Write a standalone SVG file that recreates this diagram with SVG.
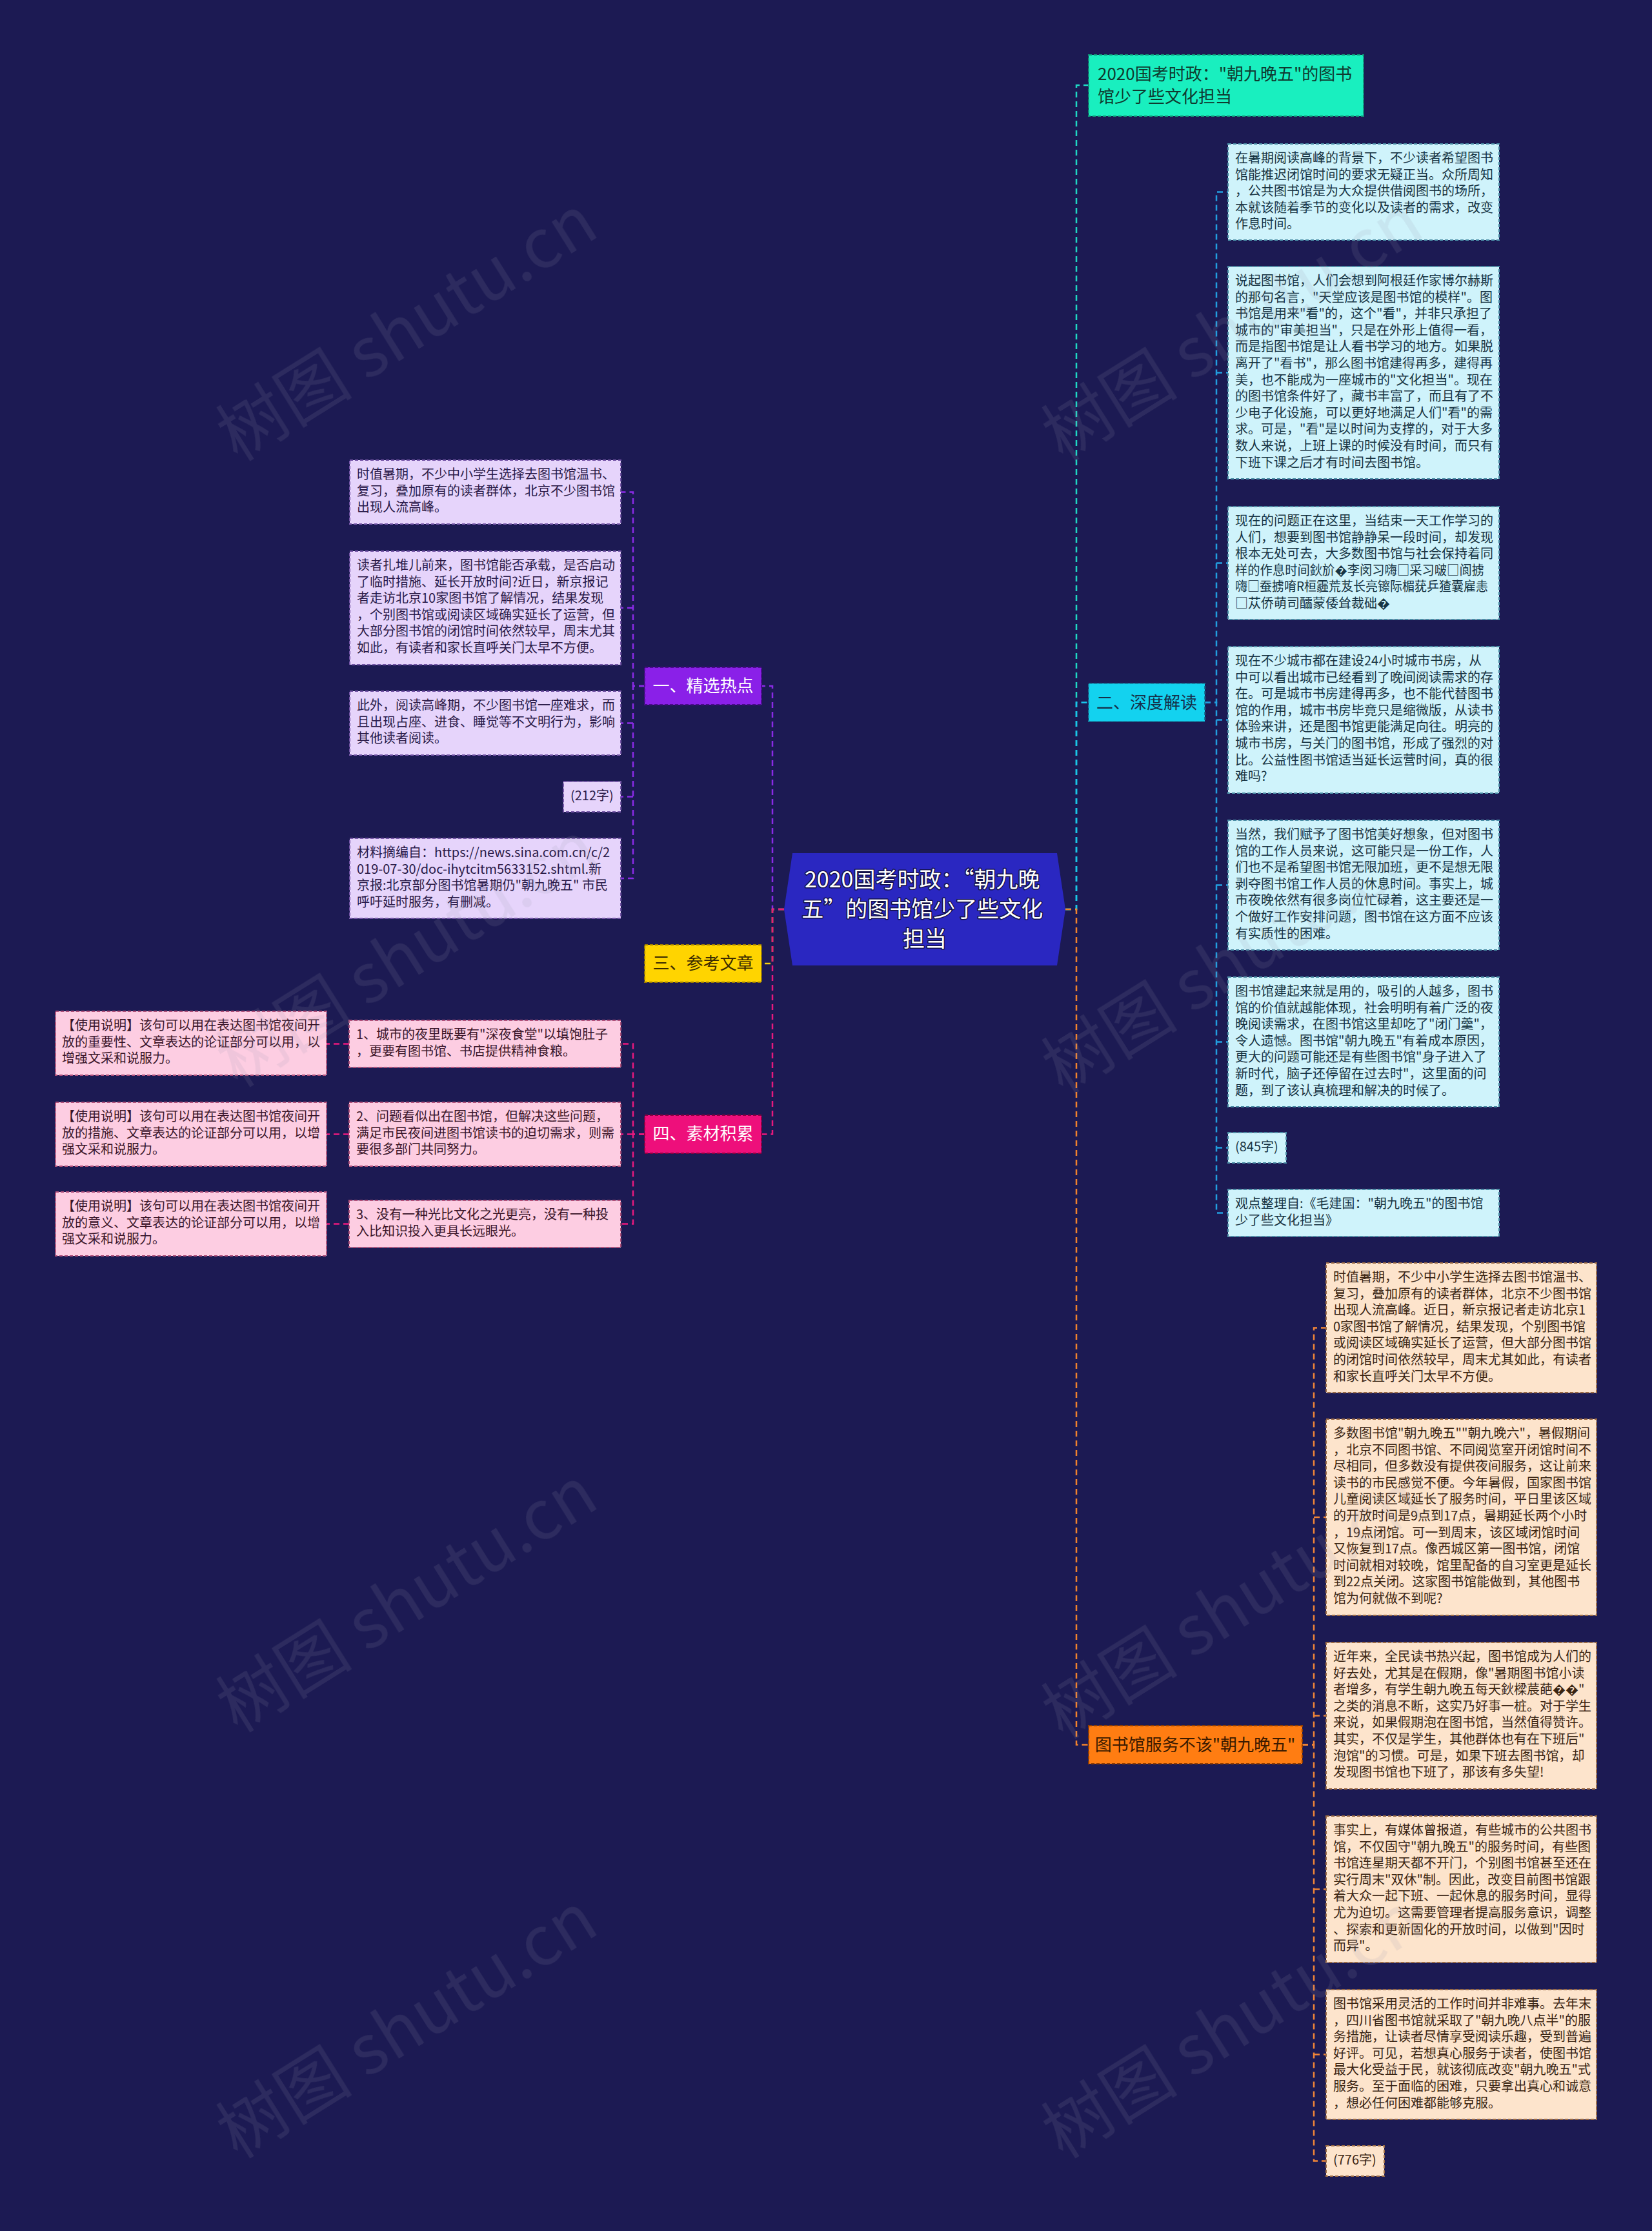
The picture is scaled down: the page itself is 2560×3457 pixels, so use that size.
<svg xmlns="http://www.w3.org/2000/svg" width="2560" height="3457" viewBox="0 0 2560 3457">
<style>
text{font-family:"Noto Sans CJK SC","Noto Sans",sans-serif}
.lf{font-size:20px}
.box{stroke-width:2;stroke-dasharray:5 3}
.cy .box{fill:#cff3fb;stroke:#4a8ea6}
.cy text{fill:#173443}
.pe .box{fill:#fde4cc;stroke:#9a6a44}
.pe text{fill:#3a2412}
.lv .box{fill:#e6d4fb;stroke:#7657a8}
.lv text{fill:#2a1a48}
.pk .box{fill:#fdcde2;stroke:#b0507a}
.pk text{fill:#3a1529}
.br{font-size:26px}
.con path{fill:none;stroke-width:2.5;stroke-dasharray:9 6}
.wm{font-family:"Liberation Serif","Noto Sans CJK SC",serif;font-size:106px;fill:#9a9ab0;opacity:0.14}
</style>
<rect width="2560" height="3457" fill="#1c1a53"/>

<g id="connectors" class="con">
  <path d="M1651 1409 H1668 V132 H1687" stroke="#1fd9c4"/>
  <path d="M1651 1409 H1668 V1088.5 H1687" stroke="#19c6ec"/>
  <path d="M1651 1409 H1668 V2703.5 H1687" stroke="#f3832c"/>
  <path d="M1215 1409 H1197 V1063 H1180" stroke="#8a2be6"/>
  <path d="M1215 1409 H1197 V1493 H1180" stroke="#f7cf13"/>
  <path d="M1215 1409 H1197 V1757.5 H1180" stroke="#e8197e"/>
  <g stroke="#229fe0">
    <path d="M1867 1088.5 H1885 V297.5 H1903"/>
    <path d="M1885 577.5 H1903"/>
    <path d="M1885 872.5 H1903"/>
    <path d="M1885 1115.5 H1903"/>
    <path d="M1885 1371.5 H1903"/>
    <path d="M1885 1614.5 H1903"/>
    <path d="M1885 1778.5 H1903"/>
    <path d="M1867 1088.5 H1885 V1879.5 H1903"/>
  </g>
  <g stroke="#f08538">
    <path d="M2018 2703.5 H2036 V2057.5 H2055"/>
    <path d="M2036 2351 H2055"/>
    <path d="M2036 2658.5 H2055"/>
    <path d="M2036 2927.5 H2055"/>
    <path d="M2036 3183.5 H2055"/>
    <path d="M2018 2703.5 H2036 V3348.5 H2055"/>
  </g>
  <g stroke="#8a2be6">
    <path d="M999 1063 H981 V762.5 H962"/>
    <path d="M981 942 H962"/>
    <path d="M981 1120.5 H962"/>
    <path d="M981 1234.5 H962"/>
    <path d="M999 1063 H981 V1361 H962"/>
  </g>
  <g stroke="#e8197e">
    <path d="M999 1757.5 H981 V1617.5 H962"/>
    <path d="M981 1757.5 H962"/>
    <path d="M999 1757.5 H981 V1896.5 H962"/>
    <path d="M541 1617.5 H506"/>
    <path d="M541 1757.5 H506"/>
    <path d="M541 1896.5 H506"/>
  </g>
</g>

<g id="center">
  <polygon points="1228,1322 1638,1322 1651,1409 1638,1496 1228,1496 1215,1409" fill="#2a27c1"/>
  <text font-size="34" fill="#ffffff" text-anchor="middle" stroke="#14124a" stroke-width="3" paint-order="stroke" stroke-linejoin="round">
    <tspan x="1433" y="1375">2020国考时政：“朝九晚</tspan>
    <tspan x="1433" y="1421">五”的图书馆少了些文化</tspan>
    <tspan x="1433" y="1467">担当</tspan>
  </text>
</g>

<g id="title-node">
  <rect class="box" x="1687" y="85" width="426" height="95" fill="#19efbf" stroke="#0f8f73"/>
  <text class="br" fill="#0f3a2f">
    <tspan x="1701" y="124">2020国考时政："朝九晚五"的图书</tspan>
    <tspan x="1701" y="159">馆少了些文化担当</tspan>
  </text>
</g>
<g id="branch-2">
  <rect class="box" x="1687" y="1059" width="180" height="59" fill="#13d2ef" stroke="#15799a"/>
  <text class="br" x="1777" y="1098" text-anchor="middle" fill="#15304a">二、深度解读</text>
</g>
<g id="branch-orange">
  <rect class="box" x="1687" y="2674" width="331" height="59" fill="#ff7d12" stroke="#8f3c00"/>
  <text class="br" x="1852" y="2713" text-anchor="middle" fill="#3a1a00">图书馆服务不该"朝九晚五"</text>
</g>
<g id="branch-1">
  <rect class="box" x="999" y="1034" width="181" height="58" fill="#8a20e8" stroke="#4a0a8a"/>
  <text class="br" x="1089.5" y="1072" text-anchor="middle" fill="#ffffff">一、精选热点</text>
</g>
<g id="branch-3">
  <rect class="box" x="999" y="1464" width="181" height="58" fill="#ffd400" stroke="#9a7a00"/>
  <text class="br" x="1089.5" y="1502" text-anchor="middle" fill="#3a2a00">三、参考文章</text>
</g>
<g id="branch-4">
  <rect class="box" x="999" y="1728" width="181" height="59" fill="#ee0f7b" stroke="#8a0040"/>
  <text class="br" x="1089.5" y="1766" text-anchor="middle" fill="#ffffff">四、素材积累</text>
</g>

<g class="cy">
<g id="r1"><rect class="box" x="1903" y="223" width="420" height="149"/>
<text class="lf"><tspan x="1914" y="252">在暑期阅读高峰的背景下，不少读者希望图书</tspan><tspan x="1914" dy="25.6">馆能推迟闭馆时间的要求无疑正当。众所周知</tspan><tspan x="1914" dy="25.6">，公共图书馆是为大众提供借阅图书的场所，</tspan><tspan x="1914" dy="25.6">本就该随着季节的变化以及读者的需求，改变</tspan><tspan x="1914" dy="25.6">作息时间。</tspan></text></g>
<g id="r2"><rect class="box" x="1903" y="413" width="420" height="329"/>
<text class="lf"><tspan x="1914" y="442">说起图书馆，人们会想到阿根廷作家博尔赫斯</tspan><tspan x="1914" dy="25.6">的那句名言，"天堂应该是图书馆的模样"。图</tspan><tspan x="1914" dy="25.6">书馆是用来"看"的，这个"看"，并非只承担了</tspan><tspan x="1914" dy="25.6">城市的"审美担当"，只是在外形上值得一看，</tspan><tspan x="1914" dy="25.6">而是指图书馆是让人看书学习的地方。如果脱</tspan><tspan x="1914" dy="25.6">离开了"看书"，那么图书馆建得再多，建得再</tspan><tspan x="1914" dy="25.6">美，也不能成为一座城市的"文化担当"。现在</tspan><tspan x="1914" dy="25.6">的图书馆条件好了，藏书丰富了，而且有了不</tspan><tspan x="1914" dy="25.6">少电子化设施，可以更好地满足人们"看"的需</tspan><tspan x="1914" dy="25.6">求。可是，"看"是以时间为支撑的，对于大多</tspan><tspan x="1914" dy="25.6">数人来说，上班上课的时候没有时间，而只有</tspan><tspan x="1914" dy="25.6">下班下课之后才有时间去图书馆。</tspan></text></g>
<g id="r3"><rect class="box" x="1903" y="785" width="420" height="175"/>
<text class="lf"><tspan x="1914" y="814">现在的问题正在这里，当结束一天工作学习的</tspan><tspan x="1914" dy="25.6">人们，想要到图书馆静静呆一段时间，却发现</tspan><tspan x="1914" dy="25.6">根本无处可去，大多数图书馆与社会保持着同</tspan><tspan x="1914" dy="25.6" textLength="386" lengthAdjust="spacingAndGlyphs">样的作息时间鈥斺�李闵习嗨□采习啵□阆掳</tspan><tspan x="1914" dy="25.6" textLength="392" lengthAdjust="spacingAndGlyphs">嗨□蚕掳唷R桓霾荒芨长亮镲际楣莸乒猹囊雇恚</tspan><tspan x="1914" dy="25.6">□苁侨萌司醽蒙倭耸裁础�</tspan></text></g>
<g id="r4"><rect class="box" x="1903" y="1002" width="420" height="227"/>
<text class="lf"><tspan x="1914" y="1031">现在不少城市都在建设24小时城市书房，从</tspan><tspan x="1914" dy="25.6">中可以看出城市已经看到了晚间阅读需求的存</tspan><tspan x="1914" dy="25.6">在。可是城市书房建得再多，也不能代替图书</tspan><tspan x="1914" dy="25.6">馆的作用，城市书房毕竟只是缩微版，从读书</tspan><tspan x="1914" dy="25.6">体验来讲，还是图书馆更能满足向往。明亮的</tspan><tspan x="1914" dy="25.6">城市书房，与关门的图书馆，形成了强烈的对</tspan><tspan x="1914" dy="25.6">比。公益性图书馆适当延长运营时间，真的很</tspan><tspan x="1914" dy="25.6">难吗?</tspan></text></g>
<g id="r5"><rect class="box" x="1903" y="1271" width="420" height="201"/>
<text class="lf"><tspan x="1914" y="1300">当然，我们赋予了图书馆美好想象，但对图书</tspan><tspan x="1914" dy="25.6">馆的工作人员来说，这可能只是一份工作，人</tspan><tspan x="1914" dy="25.6">们也不是希望图书馆无限加班，更不是想无限</tspan><tspan x="1914" dy="25.6">剥夺图书馆工作人员的休息时间。事实上，城</tspan><tspan x="1914" dy="25.6">市夜晚依然有很多岗位忙碌着，这主要还是一</tspan><tspan x="1914" dy="25.6">个做好工作安排问题，图书馆在这方面不应该</tspan><tspan x="1914" dy="25.6">有实质性的困难。</tspan></text></g>
<g id="r6"><rect class="box" x="1903" y="1514" width="420" height="201"/>
<text class="lf"><tspan x="1914" y="1543">图书馆建起来就是用的，吸引的人越多，图书</tspan><tspan x="1914" dy="25.6">馆的价值就越能体现，社会明明有着广泛的夜</tspan><tspan x="1914" dy="25.6">晚阅读需求，在图书馆这里却吃了"闭门羹"，</tspan><tspan x="1914" dy="25.6">令人遗憾。图书馆"朝九晚五"有着成本原因，</tspan><tspan x="1914" dy="25.6">更大的问题可能还是有些图书馆"身子进入了</tspan><tspan x="1914" dy="25.6">新时代，脑子还停留在过去时"，这里面的问</tspan><tspan x="1914" dy="25.6">题，到了该认真梳理和解决的时候了。</tspan></text></g>
<g id="r7"><rect class="box" x="1903" y="1755" width="90" height="47"/>
<text class="lf" x="1914" y="1784">(845字)</text></g>
<g id="r8"><rect class="box" x="1903" y="1843" width="420" height="73"/>
<text class="lf"><tspan x="1914" y="1872">观点整理自:《毛建国："朝九晚五"的图书馆</tspan><tspan x="1914" dy="25.6">少了些文化担当》</tspan></text></g>
</g>

<g class="pe">
<g id="o1"><rect class="box" x="2055" y="1957" width="419" height="201"/>
<text class="lf"><tspan x="2066" y="1986">时值暑期，不少中小学生选择去图书馆温书、</tspan><tspan x="2066" dy="25.6">复习，叠加原有的读者群体，北京不少图书馆</tspan><tspan x="2066" dy="25.6">出现人流高峰。近日，新京报记者走访北京1</tspan><tspan x="2066" dy="25.6">0家图书馆了解情况，结果发现，个别图书馆</tspan><tspan x="2066" dy="25.6">或阅读区域确实延长了运营，但大部分图书馆</tspan><tspan x="2066" dy="25.6">的闭馆时间依然较早，周末尤其如此，有读者</tspan><tspan x="2066" dy="25.6">和家长直呼关门太早不方便。</tspan></text></g>
<g id="o2"><rect class="box" x="2055" y="2199" width="419" height="304"/>
<text class="lf"><tspan x="2066" y="2228">多数图书馆"朝九晚五""朝九晚六"，暑假期间</tspan><tspan x="2066" dy="25.6">，北京不同图书馆、不同阅览室开闭馆时间不</tspan><tspan x="2066" dy="25.6">尽相同，但多数没有提供夜间服务，这让前来</tspan><tspan x="2066" dy="25.6">读书的市民感觉不便。今年暑假，国家图书馆</tspan><tspan x="2066" dy="25.6">儿童阅读区域延长了服务时间，平日里该区域</tspan><tspan x="2066" dy="25.6">的开放时间是9点到17点，暑期延长两个小时</tspan><tspan x="2066" dy="25.6">，19点闭馆。可一到周末，该区域闭馆时间</tspan><tspan x="2066" dy="25.6">又恢复到17点。像西城区第一图书馆，闭馆</tspan><tspan x="2066" dy="25.6">时间就相对较晚，馆里配备的自习室更是延长</tspan><tspan x="2066" dy="25.6">到22点关闭。这家图书馆能做到，其他图书</tspan><tspan x="2066" dy="25.6">馆为何就做不到呢?</tspan></text></g>
<g id="o3"><rect class="box" x="2055" y="2545" width="419" height="227"/>
<text class="lf"><tspan x="2066" y="2574">近年来，全民读书热兴起，图书馆成为人们的</tspan><tspan x="2066" dy="25.6">好去处，尤其是在假期，像"暑期图书馆小读</tspan><tspan x="2066" dy="25.6">者增多，有学生朝九晚五每天鈥樑莀葩��"</tspan><tspan x="2066" dy="25.6">之类的消息不断，这实乃好事一桩。对于学生</tspan><tspan x="2066" dy="25.6">来说，如果假期泡在图书馆，当然值得赞许。</tspan><tspan x="2066" dy="25.6">其实，不仅是学生，其他群体也有在下班后"</tspan><tspan x="2066" dy="25.6">泡馆"的习惯。可是，如果下班去图书馆，却</tspan><tspan x="2066" dy="25.6">发现图书馆也下班了，那该有多失望!</tspan></text></g>
<g id="o4"><rect class="box" x="2055" y="2814" width="419" height="227"/>
<text class="lf"><tspan x="2066" y="2843">事实上，有媒体曾报道，有些城市的公共图书</tspan><tspan x="2066" dy="25.6">馆，不仅固守"朝九晚五"的服务时间，有些图</tspan><tspan x="2066" dy="25.6">书馆连星期天都不开门，个别图书馆甚至还在</tspan><tspan x="2066" dy="25.6">实行周末"双休"制。因此，改变目前图书馆跟</tspan><tspan x="2066" dy="25.6">着大众一起下班、一起休息的服务时间，显得</tspan><tspan x="2066" dy="25.6">尤为迫切。这需要管理者提高服务意识，调整</tspan><tspan x="2066" dy="25.6">、探索和更新固化的开放时间，以做到"因时</tspan><tspan x="2066" dy="25.6">而异"。</tspan></text></g>
<g id="o5"><rect class="box" x="2055" y="3083" width="419" height="201"/>
<text class="lf"><tspan x="2066" y="3112">图书馆采用灵活的工作时间并非难事。去年末</tspan><tspan x="2066" dy="25.6">，四川省图书馆就采取了"朝九晚八点半"的服</tspan><tspan x="2066" dy="25.6">务措施，让读者尽情享受阅读乐趣，受到普遍</tspan><tspan x="2066" dy="25.6">好评。可见，若想真心服务于读者，使图书馆</tspan><tspan x="2066" dy="25.6">最大化受益于民，就该彻底改变"朝九晚五"式</tspan><tspan x="2066" dy="25.6">服务。至于面临的困难，只要拿出真心和诚意</tspan><tspan x="2066" dy="25.6">，想必任何困难都能够克服。</tspan></text></g>
<g id="o6"><rect class="box" x="2055" y="3325" width="90" height="47"/>
<text class="lf" x="2066" y="3354">(776字)</text></g>
</g>

<g class="lv">
<g id="l1"><rect class="box" x="542" y="713" width="420" height="99"/>
<text class="lf"><tspan x="553" y="742">时值暑期，不少中小学生选择去图书馆温书、</tspan><tspan x="553" dy="25.6">复习，叠加原有的读者群体，北京不少图书馆</tspan><tspan x="553" dy="25.6">出现人流高峰。</tspan></text></g>
<g id="l2"><rect class="box" x="542" y="854" width="420" height="176"/>
<text class="lf"><tspan x="553" y="883">读者扎堆儿前来，图书馆能否承载，是否启动</tspan><tspan x="553" dy="25.6">了临时措施、延长开放时间?近日，新京报记</tspan><tspan x="553" dy="25.6">者走访北京10家图书馆了解情况，结果发现</tspan><tspan x="553" dy="25.6">，个别图书馆或阅读区域确实延长了运营，但</tspan><tspan x="553" dy="25.6">大部分图书馆的闭馆时间依然较早，周末尤其</tspan><tspan x="553" dy="25.6">如此，有读者和家长直呼关门太早不方便。</tspan></text></g>
<g id="l3"><rect class="box" x="542" y="1071" width="420" height="99"/>
<text class="lf"><tspan x="553" y="1100">此外，阅读高峰期，不少图书馆一座难求，而</tspan><tspan x="553" dy="25.6">且出现占座、进食、睡觉等不文明行为，影响</tspan><tspan x="553" dy="25.6">其他读者阅读。</tspan></text></g>
<g id="l4"><rect class="box" x="873" y="1211" width="89" height="47"/>
<text class="lf" x="884" y="1240">(212字)</text></g>
<g id="l5"><rect class="box" x="542" y="1299" width="420" height="124"/>
<text class="lf"><tspan x="553" y="1328">材料摘编自：https://news.sina.com.cn/c/2</tspan><tspan x="553" dy="25.6">019-07-30/doc-ihytcitm5633152.shtml.新</tspan><tspan x="553" dy="25.6">京报:北京部分图书馆暑期仍"朝九晚五" 市民</tspan><tspan x="553" dy="25.6">呼吁延时服务，有删减。</tspan></text></g>
</g>

<g class="pk">
<g id="p1"><rect class="box" x="541" y="1581" width="421" height="73"/>
<text class="lf"><tspan x="552" y="1610">1、城市的夜里既要有"深夜食堂"以填饱肚子</tspan><tspan x="552" dy="25.6">，更要有图书馆、书店提供精神食粮。</tspan></text></g>
<g id="p2"><rect class="box" x="541" y="1708" width="421" height="99"/>
<text class="lf"><tspan x="552" y="1737">2、问题看似出在图书馆，但解决这些问题，</tspan><tspan x="552" dy="25.6">满足市民夜间进图书馆读书的迫切需求，则需</tspan><tspan x="552" dy="25.6">要很多部门共同努力。</tspan></text></g>
<g id="p3"><rect class="box" x="541" y="1860" width="421" height="73"/>
<text class="lf"><tspan x="552" y="1889">3、没有一种光比文化之光更亮，没有一种投</tspan><tspan x="552" dy="25.6">入比知识投入更具长远眼光。</tspan></text></g>
<g id="q1"><rect class="box" x="86" y="1567" width="420" height="99"/>
<text class="lf"><tspan x="96" y="1596">【使用说明】该句可以用在表达图书馆夜间开</tspan><tspan x="96" dy="25.6">放的重要性、文章表达的论证部分可以用，以</tspan><tspan x="96" dy="25.6">增强文采和说服力。</tspan></text></g>
<g id="q2"><rect class="box" x="86" y="1708" width="420" height="99"/>
<text class="lf"><tspan x="96" y="1737">【使用说明】该句可以用在表达图书馆夜间开</tspan><tspan x="96" dy="25.6">放的措施、文章表达的论证部分可以用，以增</tspan><tspan x="96" dy="25.6">强文采和说服力。</tspan></text></g>
<g id="q3"><rect class="box" x="86" y="1847" width="420" height="99"/>
<text class="lf"><tspan x="96" y="1876">【使用说明】该句可以用在表达图书馆夜间开</tspan><tspan x="96" dy="25.6">放的意义、文章表达的论证部分可以用，以增</tspan><tspan x="96" dy="25.6">强文采和说服力。</tspan></text></g>
</g>

<g id="watermarks" class="wm" text-anchor="middle">
  <text transform="translate(650,540) rotate(-32)">树图 shutu.cn</text>
  <text transform="translate(1929,540) rotate(-32)">树图 shutu.cn</text>
  <text transform="translate(650,1510) rotate(-32)">树图 shutu.cn</text>
  <text transform="translate(1929,1520) rotate(-32)">树图 shutu.cn</text>
  <text transform="translate(650,2510) rotate(-32)">树图 shutu.cn</text>
  <text transform="translate(1929,2520) rotate(-32)">树图 shutu.cn</text>
  <text transform="translate(650,3170) rotate(-32)">树图 shutu.cn</text>
  <text transform="translate(1929,3170) rotate(-32)">树图 shutu.cn</text>
</g>
</svg>
